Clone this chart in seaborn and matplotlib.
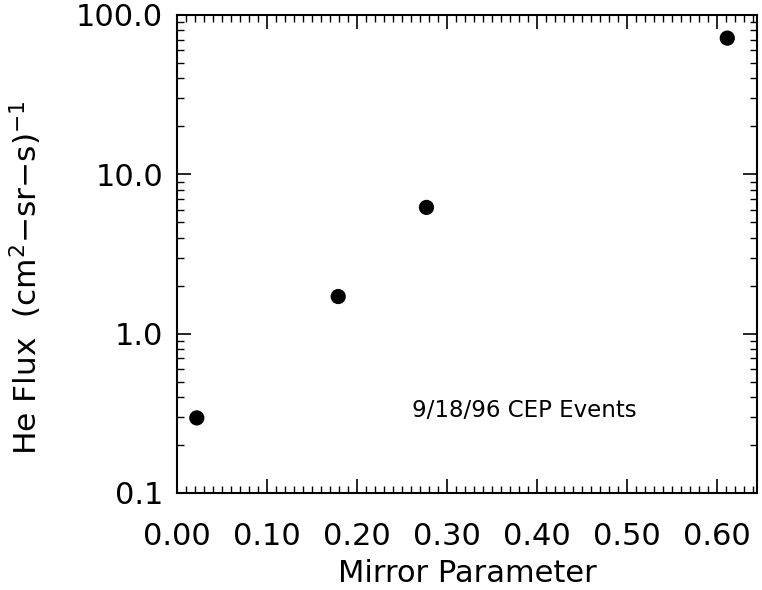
import matplotlib
matplotlib.use("Agg")
import matplotlib.pyplot as plt
import matplotlib.ticker as mticker
import numpy as np
import pandas as pd
import seaborn as sns

# values
mirror_param = [0.022, 0.179, 0.277, 0.611]
he_flux = [0.296, 1.71, 6.2, 71.6]
x_ticks = [0.0, 0.1, 0.2, 0.3, 0.4, 0.5, 0.6]
x_ticklabels = ["0.00", "0.10", "0.20", "0.30", "0.40", "0.50", "0.60"]
y_ticks = [0.1, 1.0, 10.0, 100.0]
y_ticklabels = ["0.1", "1.0", "10.0", "100.0"]
note = "9/18/96 CEP Events"

sns.set_theme(style="ticks")
plt.rcParams["font.family"] = ["DejaVu Sans"]

df = pd.DataFrame({"mirror": mirror_param, "flux": he_flux})

fig = plt.figure(figsize=(7.62, 5.90), dpi=100)
ax = fig.add_axes([177 / 762, 97 / 590, 580 / 762, 478 / 590])

sns.scatterplot(df, x="mirror", y="flux", ax=ax, color="black",
                s=120, edgecolor="none", legend=False)

ax.set_yscale("log")
ax.set_xlim(0, 0.644)
ax.set_ylim(0.1, 100)

ax.set_xticks(x_ticks)
ax.set_xticklabels(x_ticklabels)
ax.xaxis.set_minor_locator(mticker.MultipleLocator(0.01))
ax.set_yticks(y_ticks)
ax.set_yticklabels(y_ticklabels)
ax.yaxis.set_minor_locator(mticker.LogLocator(base=10, subs=np.arange(2, 10)))
ax.yaxis.set_minor_formatter(mticker.NullFormatter())

ax.tick_params(which="both", direction="in", top=True, right=True,
               color="black", labelsize=22, labelcolor="black")
ax.tick_params(axis="x", which="both", pad=21)
ax.tick_params(axis="y", which="both", pad=10)
ax.tick_params(which="major", length=10, width=1.2)
ax.tick_params(which="minor", length=5, width=1.0)
for sp in ax.spines.values():
    sp.set_linewidth(1.5)
    sp.set_color("black")

ax.set_xlabel("Mirror Parameter", fontsize=22, labelpad=6, color="black")
ax.set_ylabel(r"He Flux  (cm$^2$$-$sr$-$s)$^{-1}$", fontsize=22.5,
              color="black")
ax.yaxis.set_label_coords(-0.23, 0.45)

ax.text(0.261, 0.328, note, fontsize=16.5, ha="left", va="center",
        color="black")

fig.savefig("out.png", dpi=100)
